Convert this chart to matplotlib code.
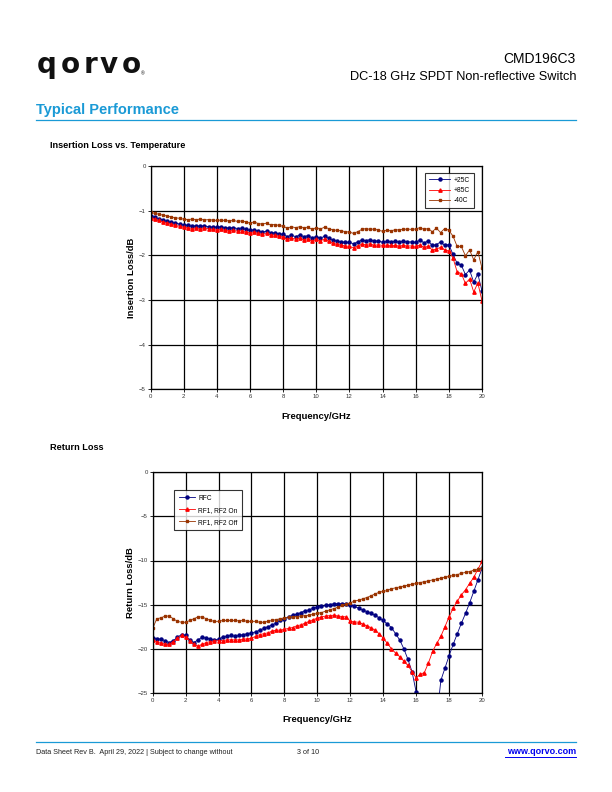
import matplotlib
matplotlib.use("Agg")
import matplotlib.pyplot as plt
import numpy as np

plt.rcParams['font.family'] = ['Liberation Sans', 'DejaVu Sans']

# frequency grid, GHz (0.25 GHz steps)
freq = np.linspace(0, 20, 81)

# Insertion loss vs temperature (dB)
il_25 = [-1.12, -1.15, -1.18, -1.21, -1.24, -1.26, -1.28, -1.30, -1.32, -1.33,
         -1.35, -1.34, -1.35, -1.34, -1.36, -1.37, -1.37, -1.36, -1.38, -1.39,
         -1.38, -1.40, -1.39, -1.42, -1.44, -1.43, -1.46, -1.48, -1.46, -1.49,
         -1.50, -1.52, -1.53, -1.58, -1.55, -1.58, -1.55, -1.58, -1.56, -1.61,
         -1.58, -1.62, -1.57, -1.62, -1.66, -1.68, -1.70, -1.71, -1.71, -1.74,
         -1.70, -1.66, -1.67, -1.65, -1.69, -1.67, -1.71, -1.69, -1.70, -1.69,
         -1.70, -1.69, -1.70, -1.70, -1.71, -1.66, -1.72, -1.68, -1.78, -1.76,
         -1.70, -1.78, -1.76, -1.98, -2.18, -2.22, -2.43, -2.33, -2.60, -2.42,
         -2.80]
il_85 = [-1.16, -1.19, -1.22, -1.25, -1.28, -1.30, -1.33, -1.35, -1.37, -1.38,
         -1.40, -1.39, -1.40, -1.39, -1.41, -1.42, -1.43, -1.42, -1.44, -1.45,
         -1.44, -1.46, -1.45, -1.48, -1.49, -1.48, -1.51, -1.53, -1.51, -1.54,
         -1.55, -1.57, -1.59, -1.64, -1.61, -1.64, -1.62, -1.65, -1.63, -1.68,
         -1.64, -1.68, -1.63, -1.69, -1.73, -1.75, -1.77, -1.79, -1.80, -1.83,
         -1.79, -1.75, -1.76, -1.74, -1.78, -1.76, -1.78, -1.77, -1.78, -1.78,
         -1.79, -1.78, -1.79, -1.79, -1.80, -1.77, -1.82, -1.80, -1.88, -1.86,
         -1.82, -1.88, -1.90, -2.06, -2.37, -2.41, -2.63, -2.53, -2.82, -2.62,
         -3.02]
il_m40 = [-1.04, -1.06, -1.08, -1.10, -1.12, -1.14, -1.16, -1.17, -1.19, -1.20,
          -1.19, -1.20, -1.19, -1.21, -1.20, -1.21, -1.22, -1.21, -1.22, -1.23,
          -1.22, -1.24, -1.23, -1.25, -1.28, -1.25, -1.29, -1.30, -1.28, -1.32,
          -1.31, -1.33, -1.35, -1.39, -1.36, -1.38, -1.36, -1.38, -1.37, -1.42,
          -1.38, -1.41, -1.37, -1.40, -1.43, -1.44, -1.45, -1.47, -1.48, -1.51,
          -1.47, -1.42, -1.40, -1.42, -1.41, -1.44, -1.46, -1.44, -1.45, -1.43,
          -1.43, -1.42, -1.41, -1.42, -1.41, -1.38, -1.42, -1.40, -1.47, -1.39,
          -1.49, -1.40, -1.44, -1.57, -1.80, -1.80, -2.01, -1.88, -2.10, -1.92,
          -2.29]

# Return loss (dB)
rl_rfc = [-18.8, -18.9, -18.9, -19.1, -19.3, -19.1, -18.7, -18.4, -18.5, -19.0,
          -19.3, -19.0, -18.7, -18.8, -18.9, -19.0, -18.9, -18.7, -18.6, -18.5,
          -18.6, -18.5, -18.4, -18.3, -18.2, -18.1, -17.9, -17.7, -17.5, -17.3,
          -17.1, -16.8, -16.6, -16.4, -16.2, -16.1, -15.9, -15.7, -15.6, -15.4,
          -15.3, -15.2, -15.1, -15.0, -14.9, -14.9, -14.9, -14.9, -15.0, -15.2,
          -15.4, -15.6, -15.8, -16.0, -16.2, -16.5, -16.8, -17.2, -17.6, -18.3,
          -19.0, -20.0, -21.2, -22.6, -24.9, -28.0, -33.0, -36.0, -33.0, -28.0,
          -23.6, -22.2, -20.8, -19.5, -18.3, -17.1, -16.0, -14.8, -13.5, -12.2,
          -10.9]
rl_on = [-19.0, -19.2, -19.3, -19.5, -19.5, -19.2, -18.8, -18.5, -18.7, -19.1,
         -19.5, -19.7, -19.5, -19.3, -19.2, -19.1, -19.1, -19.1, -19.0, -19.0,
         -19.0, -19.0, -18.9, -18.9, -18.8, -18.6, -18.4, -18.3, -18.2, -18.0,
         -17.9, -17.9, -17.8, -17.7, -17.6, -17.4, -17.3, -17.1, -16.9, -16.7,
         -16.55, -16.4, -16.3, -16.25, -16.2, -16.3, -16.35, -16.4, -16.9, -16.95,
         -17.0, -17.2, -17.4, -17.6, -17.9, -18.3, -18.8, -19.4, -20.0, -20.5,
         -20.9, -21.4, -21.9, -22.6, -23.3, -22.9, -22.7, -21.6, -20.3, -19.4,
         -18.6, -17.5, -16.4, -15.4, -14.6, -13.9, -13.3, -12.6, -11.9, -11.0,
         -10.1]
rl_off = [-17.7, -16.6, -16.5, -16.3, -16.3, -16.6, -16.9, -17.0, -17.0, -16.8,
          -16.6, -16.4, -16.4, -16.6, -16.8, -16.9, -16.9, -16.8, -16.8, -16.8,
          -16.8, -16.85, -16.8, -16.9, -16.9, -16.9, -17.0, -17.0, -16.9, -16.8,
          -16.7, -16.6, -16.5, -16.45, -16.4, -16.35, -16.3, -16.25, -16.2, -16.1,
          -16.0, -15.9, -15.75, -15.6, -15.45, -15.3, -15.1, -14.95, -14.8, -14.6,
          -14.5, -14.35, -14.2, -14.0, -13.8, -13.6, -13.5, -13.4, -13.2, -13.1,
          -13.0, -12.9, -12.8, -12.7, -12.6, -12.5, -12.4, -12.3, -12.2, -12.1,
          -12.0, -11.9, -11.8, -11.7, -11.6, -11.45, -11.35, -11.25, -11.1, -11.0,
          -10.9]

W, H = 612, 792
fig = plt.figure(figsize=(W / 100, H / 100), dpi=100)


def fx(x):
    return x / W


def fy(y):
    return 1 - y / H


def ax_at(l, t, r, b):
    return fig.add_axes([fx(l), fy(b), (r - l) / W, (b - t) / H])


navy = '#000080'
red = '#FF0000'
brown = '#993300'
qblue = '#1A9AD6'


def style_axes(ax, ylim, ystep):
    ax.set_xlim(0, 20)
    ax.set_ylim(*ylim)
    ax.set_xticks(np.arange(0, 21, 2))
    ax.set_yticks(np.arange(ylim[0], ylim[1] + 0.1, ystep))
    ax.grid(True, color='black', linewidth=0.9)
    ax.set_axisbelow(True)
    ax.tick_params(labelsize=4.3, length=2, width=0.6, colors='black',
                   labelcolor='#333333', pad=1.5)
    for s in ax.spines.values():
        s.set_linewidth(0.9)
    ax.set_xlabel('Frequency/GHz', fontsize=6.8, fontweight='bold', labelpad=9)


# --- header: logo drawn letter by letter ---
for ch, cx in zip('qorvo', [46.5, 70, 90.5, 108.7, 131]):
    fig.text(fx(cx), fy(73), ch, fontsize=20, fontweight='bold',
             family='DejaVu Sans', va='baseline', ha='center', color='#111111')
fig.text(fx(141), fy(74), '®', fontsize=3.5, va='center', ha='left')
fig.text(fx(576), fy(59), 'CMD196C3', fontsize=10, ha='right', va='center')
fig.text(fx(576), fy(77), 'DC-18 GHz SPDT Non-reflective Switch', fontsize=9.2,
         ha='right', va='center')
fig.text(fx(36), fy(110), 'Typical Performance', fontsize=10.5,
         fontweight='bold', color=qblue, ha='left', va='center')
fig.add_artist(plt.Line2D([fx(36), fx(576)], [fy(119.5), fy(119.5)],
                          color=qblue, linewidth=0.9))

# --- chart 1 ---
fig.text(fx(50), fy(145), 'Insertion Loss vs. Temperature', fontsize=6.6,
         fontweight='bold', ha='left', va='center')
ax1 = ax_at(150.5, 166, 482, 389.3)
ax1.plot(freq, il_25, color=navy, marker='o', markersize=2.2, linewidth=0.6,
         label='+25C')
ax1.plot(freq, il_85, color=red, marker='^', markersize=2.4, linewidth=0.6,
         label='+85C')
ax1.plot(freq, il_m40, color=brown, marker='s', markersize=2.0, linewidth=0.6,
         label='-40C')
style_axes(ax1, (-5, 0), 1)
ax1.set_ylabel('Insertion Loss/dB', fontsize=6.8, fontweight='bold', labelpad=2)
leg1 = ax1.legend(loc='upper left', bbox_to_anchor=(0.828, 0.97), fontsize=4.8,
                  frameon=True, fancybox=False, edgecolor='black',
                  handlelength=3.2, borderpad=0.6, labelspacing=0.5,
                  handletextpad=0.5, borderaxespad=0)
leg1.get_frame().set_linewidth(0.8)

# --- chart 2 ---
fig.text(fx(50), fy(448), 'Return Loss', fontsize=6.6, fontweight='bold',
         ha='left', va='center')
ax2 = ax_at(152.7, 472.3, 482, 692.8)
ax2.plot(freq, rl_rfc, color=navy, marker='o', markersize=2.2, linewidth=0.6,
         label='RFC')
ax2.plot(freq, rl_on, color=red, marker='^', markersize=2.4, linewidth=0.6,
         label='RF1, RF2 On')
ax2.plot(freq, rl_off, color=brown, marker='s', markersize=2.0, linewidth=0.6,
         label='RF1, RF2 Off')
style_axes(ax2, (-25, 0), 5)
ax2.set_ylabel('Return Loss/dB', fontsize=6.8, fontweight='bold', labelpad=2)
leg2 = ax2.legend(loc='upper left', bbox_to_anchor=(0.065, 0.92), fontsize=4.8,
                  frameon=True, fancybox=False, edgecolor='black',
                  handlelength=2.4, borderpad=0.7, labelspacing=0.75,
                  handletextpad=0.5, borderaxespad=0)
leg2.get_frame().set_linewidth(0.8)

# --- footer ---
fig.add_artist(plt.Line2D([fx(36), fx(576)], [fy(742), fy(742)],
                          color=qblue, linewidth=0.9))
fig.text(fx(36), fy(753), 'Data Sheet Rev B.  April 29, 2022 | Subject to change without',
         fontsize=5.2, ha='left', va='center', color='#222222')
fig.text(fx(308), fy(753), '3 of 10', fontsize=5.2, ha='center', va='center',
         color='#222222')
fig.text(fx(576), fy(752), 'www.qorvo.com', fontsize=6.5, fontweight='bold',
         ha='right', va='center', color='#0000EE')
fig.add_artist(plt.Line2D([fx(505), fx(576)], [fy(757), fy(757)],
                          color='#0000EE', linewidth=0.7))

fig.savefig('out.png', dpi=100)
